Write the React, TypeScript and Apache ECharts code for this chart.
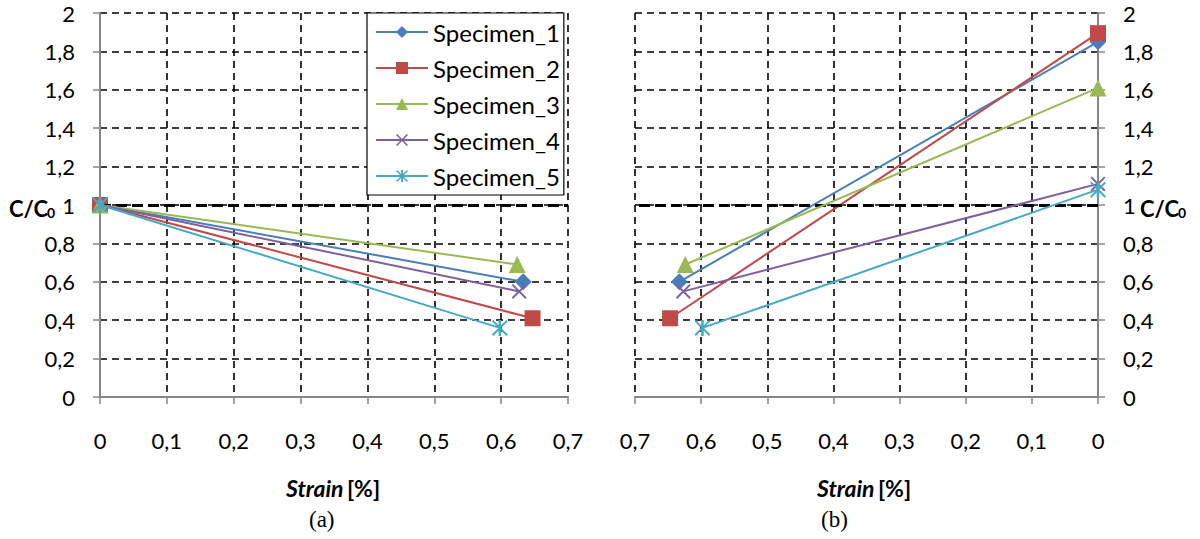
import React, { useEffect, useRef } from "react";
import * as echarts from "echarts";

const specimens = ["Specimen_1", "Specimen_2", "Specimen_3", "Specimen_4", "Specimen_5"];
const colors = ["#4A7EBB", "#BE4B48", "#98B954", "#7D60A0", "#46AAC5"];
const strainInitial = 0;
const cInitial = 1;
const strainPeak = [0.633, 0.647, 0.624, 0.627, 0.598];
const cPeak = [0.6, 0.41, 0.69, 0.55, 0.36];
const strainFinal = 0;
const cFinal = [1.85, 1.895, 1.61, 1.11, 1.08];
const xTicks = [0, 0.1, 0.2, 0.3, 0.4, 0.5, 0.6, 0.7];
const yTicks = [0, 0.2, 0.4, 0.6, 0.8, 1, 1.2, 1.4, 1.6, 1.8, 2];
const refLevel = 1;

const xPath = "path://M0,9L9,0L100,91L91,100ZM91,0L100,9L9,100L0,91Z";
const starPath = "path://M0,9L9,0L100,91L91,100ZM91,0L100,9L9,100L0,91ZM42,0L58,0L58,100L42,100Z";
const symbols = ["diamond", "rect", "triangle", xPath, starPath];
const symbolSizes = [17, 16, 17, 15, 16];

const FONT = "Lato";
const fmt = (v: number) => String(Math.round(v * 10) / 10).replace(".", ",");

export default function App() {
  const ref = useRef<HTMLDivElement>(null);
  useEffect(() => {
    document.body.style.margin = "0";
    const chart = echarts.init(ref.current!, null, { renderer: "svg" });
    const gridLine = { show: true, lineStyle: { color: "#000", type: [7, 5], width: 1.6 } };
    const mkX = (gi: number, inverse: boolean) => ({
      type: "value",
      gridIndex: gi,
      min: xTicks[0],
      max: xTicks[xTicks.length - 1],
      interval: 0.1,
      inverse,
      axisLine: { onZero: false, lineStyle: { color: "#868686", width: 2 } },
      axisTick: { show: true, length: 7, lineStyle: { color: "#868686", width: 1.5 } },
      axisLabel: { formatter: fmt, color: "#000", fontSize: 22, fontFamily: FONT, margin: 32 },
      splitLine: gridLine,
    });
    const mkY = (gi: number, pos: string) => ({
      type: "value",
      gridIndex: gi,
      position: pos,
      min: yTicks[0],
      max: yTicks[yTicks.length - 1],
      interval: 0.2,
      axisLine: { show: true, onZero: false, lineStyle: { color: "#868686", width: 2 } },
      axisTick: { show: true, length: 7, lineStyle: { color: "#868686", width: 1.5 } },
      axisLabel: { formatter: fmt, color: "#000", fontSize: 22, fontFamily: FONT, margin: 25 },
      splitLine: gridLine,
    });
    const markLine = {
      silent: true,
      symbol: "none",
      label: { show: false },
      lineStyle: { color: "#000", type: [11, 5], width: 3 },
      data: [{ yAxis: refLevel }],
    };
    const series: any[] = [];
    specimens.forEach((name, i) => {
      const common = {
        name,
        type: "line",
        symbol: symbols[i],
        symbolSize: symbolSizes[i],
        clip: false,
        color: colors[i],
        lineStyle: { width: 2, color: colors[i] },
        itemStyle: { color: colors[i] },
        z: 3 + i,
      };
      series.push({
        ...common,
        xAxisIndex: 0,
        yAxisIndex: 0,
        data: [
          [strainInitial, cInitial],
          [strainPeak[i], cPeak[i]],
        ],
        markLine: i === 0 ? markLine : undefined,
      });
      series.push({
        ...common,
        xAxisIndex: 1,
        yAxisIndex: 1,
        data: [
          [strainPeak[i], cPeak[i]],
          [strainFinal, cFinal[i]],
        ],
        markLine: i === 0 ? markLine : undefined,
      });
    });
    const strainStyle = {
      text: "{a|Strain} {b|[%]}",
      rich: {
        a: { font: `italic bold 23px ${FONT}`, fill: "#000" },
        b: { font: `bold 23px ${FONT}`, fill: "#000" },
      },
    };
    chart.setOption({
      animation: false,
      backgroundColor: "#fff",
      grid: [
        { left: 100, top: 13, width: 468, height: 384 },
        { left: 635, top: 13, width: 463, height: 384 },
      ],
      xAxis: [mkX(0, false), mkX(1, true)],
      yAxis: [mkY(0, "left"), mkY(1, "right")],
      legend: {
        data: specimens,
        orient: "vertical",
        left: 367,
        top: 13,
        itemWidth: 52,
        itemHeight: 15,
        itemGap: 12,
        padding: [7, 4, 7, 8],
        borderColor: "#000",
        borderWidth: 1.2,
        backgroundColor: "#fff",
        textStyle: { fontSize: 24, fontFamily: FONT, color: "#000", lineHeight: 24 },
      },
      graphic: [
        { type: "text", left: 9, top: 197, style: { text: "C/C", font: `bold 22px ${FONT}`, fill: "#000" } },
        { type: "text", left: 47, top: 205, style: { text: "0", font: `bold 14px ${FONT}`, fill: "#000" } },
        { type: "text", left: 1140, top: 197, style: { text: "C/C", font: `bold 22px ${FONT}`, fill: "#000" } },
        { type: "text", left: 1178, top: 205, style: { text: "0", font: `bold 14px ${FONT}`, fill: "#000" } },
        { type: "text", left: 286, top: 476, style: strainStyle },
        { type: "text", left: 817, top: 476, style: strainStyle },
        { type: "text", left: 309, top: 508, style: { text: "(a)", font: `23px "Liberation Serif"`, fill: "#000" } },
        { type: "text", left: 821, top: 508, style: { text: "(b)", font: `23px "Liberation Serif"`, fill: "#000" } },
      ],
      series,
    });
    return () => chart.dispose();
  }, []);
  return <div ref={ref} style={{ width: 1200, height: 539 }} />;
}
